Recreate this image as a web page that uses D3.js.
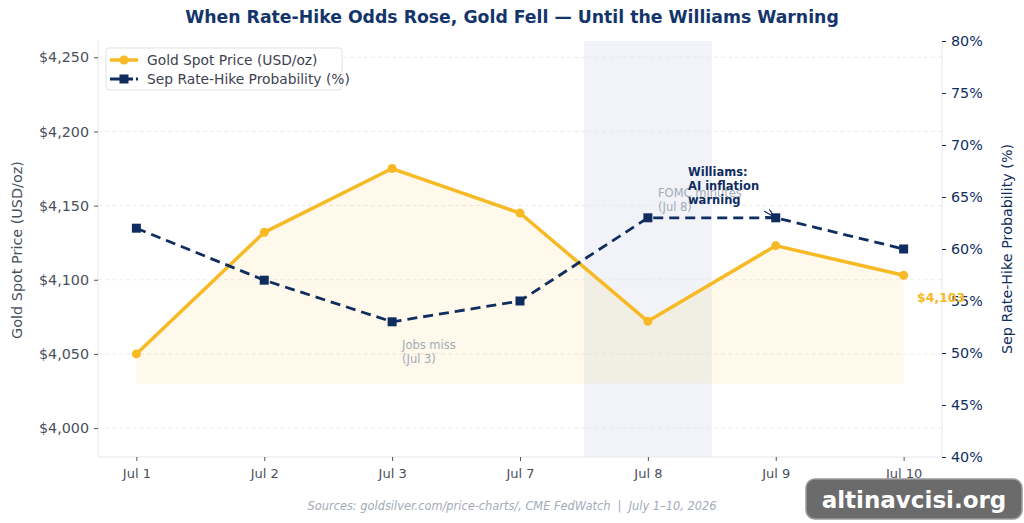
<!DOCTYPE html>
<html><head><meta charset="utf-8">
<script src="https://cdn.jsdelivr.net/npm/d3@7"></script>
<style>body{margin:0;background:#fff}svg{display:block;font-family:"DejaVu Sans",sans-serif}</style>
</head><body><svg id="c" width="1024" height="523"></svg>
<script>
const categories = ["Jul 1","Jul 2","Jul 3","Jul 7","Jul 8","Jul 9","Jul 10"];
const goldPrice = [4050, 4132, 4175, 4145, 4072, 4123, 4103];
const hikeProb = [62, 57, 53, 55, 63, 63, 60];
const goldTicks = [4000, 4050, 4100, 4150, 4200, 4250];
const probTicks = [40, 45, 50, 55, 60, 65, 70, 75, 80];
const fillBase = 4030;

const GOLD = "#f7b924", NAVY = "#0f2d5f";
const svg = d3.select("#c");
const L = 98, R = 942, T = 41, B = 457;
const x = d3.scaleLinear().domain([-0.3, 6.3]).range([L, R]);
const yL = d3.scaleLinear().domain([3980.5, 4261]).range([B, T]);
const yR = d3.scaleLinear().domain([40, 80]).range([B, T]);
const idx = categories.map((d, i) => i);

// shaded span
svg.append("rect").attr("x", x(3.5)).attr("y", T).attr("width", x(4.5) - x(3.5)).attr("height", B - T)
  .attr("fill", "#eef0f6").attr("opacity", 0.8);

// grid
svg.append("g").selectAll("line").data(goldTicks).join("line")
  .attr("x1", L).attr("x2", R).attr("y1", d => yL(d)).attr("y2", d => yL(d))
  .attr("stroke", "#e6e6e6").attr("stroke-dasharray", "4,3").attr("stroke-width", 0.8);

// fill
svg.append("path").datum(idx)
  .attr("d", d3.area().x(i => x(i)).y0(yL(fillBase)).y1(i => yL(goldPrice[i])))
  .attr("fill", GOLD).attr("opacity", 0.09);

// spines
svg.append("line").attr("x1", L).attr("x2", L).attr("y1", T).attr("y2", B).attr("stroke", "#e4e6ea");
svg.append("line").attr("x1", L).attr("x2", R).attr("y1", B).attr("y2", B).attr("stroke", "#e4e6ea");
svg.append("line").attr("x1", R).attr("x2", R).attr("y1", T).attr("y2", B).attr("stroke", "#e4e6ea");

// axes
const gL = svg.append("g").attr("transform", `translate(${L},0)`)
  .call(d3.axisLeft(yL).tickValues(goldTicks).tickFormat(d => "$" + d3.format(",")(d)).tickSize(4).tickPadding(5));
gL.select(".domain").remove();
gL.selectAll("line").attr("stroke", "#555");
gL.selectAll("text").attr("fill", "#4a4f5c").attr("font-size", 14.3).attr("font-family", "DejaVu Sans");

const gR = svg.append("g").attr("transform", `translate(${R},0)`)
  .call(d3.axisRight(yR).tickValues(probTicks).tickFormat(d => d + "%").tickSize(4).tickPadding(5));
gR.select(".domain").remove();
gR.selectAll("line").attr("stroke", NAVY);
gR.selectAll("text").attr("fill", NAVY).attr("font-size", 14.3).attr("font-family", "DejaVu Sans");

const gX = svg.append("g").attr("transform", `translate(0,${B})`)
  .call(d3.axisBottom(x).tickValues(idx).tickFormat(i => categories[i]).tickSize(4).tickPadding(8));
gX.select(".domain").remove();
gX.selectAll("line").attr("stroke", "#555");
gX.selectAll("text").attr("fill", "#4a4f5c").attr("font-size", 13).attr("font-family", "DejaVu Sans");

// gold line
svg.append("path").datum(idx)
  .attr("d", d3.line().x(i => x(i)).y(i => yL(goldPrice[i])))
  .attr("fill", "none").attr("stroke", GOLD).attr("stroke-width", 3.5).attr("stroke-linejoin", "round");
svg.append("g").selectAll("circle").data(idx).join("circle")
  .attr("cx", i => x(i)).attr("cy", i => yL(goldPrice[i])).attr("r", 4.5).attr("fill", GOLD);

// prob line
svg.append("path").datum(idx)
  .attr("d", d3.line().x(i => x(i)).y(i => yR(hikeProb[i])))
  .attr("fill", "none").attr("stroke", NAVY).attr("stroke-width", 2.8).attr("stroke-dasharray", "10,6");
svg.append("g").selectAll("rect").data(idx).join("rect")
  .attr("x", i => x(i) - 4.5).attr("y", i => yR(hikeProb[i]) - 4.5).attr("width", 9).attr("height", 9).attr("fill", NAVY);

// annotations
function multi(xp, yp, lines, attrs) {
  const t = svg.append("text").attr("x", xp).attr("y", yp);
  Object.entries(attrs).forEach(([k, v]) => t.attr(k, v));
  lines.forEach((l, i) => t.append("tspan").attr("x", xp).attr("dy", i ? 14 : 0).text(l));
}
multi(402, 349, ["Jobs miss", "(Jul 3)"], {fill: "#a3abb7", "font-size": 11.5});
multi(658, 197, ["FOMC minutes", "(Jul 8)"], {fill: "#a3abb7", "font-size": 11.5});
multi(688, 176, ["Williams:", "AI inflation", "warning"], {fill: NAVY, "font-size": 11.5, "font-weight": "bold"});
svg.append("defs").append("marker").attr("id", "ah").attr("viewBox", "0 0 10 10").attr("refX", 9).attr("refY", 5)
  .attr("markerWidth", 7).attr("markerHeight", 7).attr("orient", "auto")
  .append("path").attr("d", "M0,0 L10,5 L0,10").attr("fill", "none").attr("stroke", NAVY).attr("stroke-width", 1.5);
svg.append("line").attr("x1", 764).attr("y1", 211).attr("x2", x(5) - 2).attr("y2", yR(hikeProb[5]) - 1)
  .attr("stroke", NAVY).attr("stroke-width", 1.2).attr("marker-end", "url(#ah)");
svg.append("text").attr("x", 917).attr("y", 302).attr("fill", GOLD).attr("font-size", 12.5).attr("font-weight", "bold")
  .text("$" + d3.format(",")(goldPrice[6]));

// legend
const lg = svg.append("g");
lg.append("rect").attr("x", 106).attr("y", 48).attr("width", 236).attr("height", 42).attr("rx", 3)
  .attr("fill", "#fff").attr("fill-opacity", 0.9).attr("stroke", "#e2e2e2");
lg.append("line").attr("x1", 110).attr("x2", 138).attr("y1", 60).attr("y2", 60).attr("stroke", GOLD).attr("stroke-width", 3.5);
lg.append("circle").attr("cx", 124).attr("cy", 60).attr("r", 4.5).attr("fill", GOLD);
lg.append("line").attr("x1", 110).attr("x2", 138).attr("y1", 79).attr("y2", 79).attr("stroke", NAVY).attr("stroke-width", 2.8).attr("stroke-dasharray", "10,3");
lg.append("rect").attr("x", 119.5).attr("y", 74.5).attr("width", 9).attr("height", 9).attr("fill", NAVY);
lg.append("text").attr("x", 147).attr("y", 65).attr("fill", "#3d4250").attr("font-size", 13.8).text("Gold Spot Price (USD/oz)");
lg.append("text").attr("x", 147).attr("y", 84).attr("fill", "#3d4250").attr("font-size", 13.8).text("Sep Rate-Hike Probability (%)");

// titles
svg.append("text").attr("x", 512).attr("y", 23).attr("text-anchor", "middle").attr("fill", "#13356b")
  .attr("font-size", 17.3).attr("font-weight", "bold").text("When Rate-Hike Odds Rose, Gold Fell — Until the Williams Warning");
svg.append("text").attr("transform", "translate(22,250) rotate(-90)").attr("text-anchor", "middle")
  .attr("fill", "#4a4f5c").attr("font-size", 14.4).text("Gold Spot Price (USD/oz)");
svg.append("text").attr("transform", "translate(1012,249) rotate(-90)").attr("text-anchor", "middle")
  .attr("fill", NAVY).attr("font-size", 14.3).text("Sep Rate-Hike Probability (%)");
svg.append("text").attr("x", 512).attr("y", 510).attr("text-anchor", "middle").attr("fill", "#a3abb7")
  .attr("font-size", 11.4).attr("font-style", "italic").style("white-space", "pre")
  .text("Sources: goldsilver.com/price-charts/, CME FedWatch  |  July 1–10, 2026");

// watermark
svg.append("rect").attr("x", 806).attr("y", 479).attr("width", 216).attr("height", 40).attr("rx", 9)
  .attr("fill", "#6b6b6b").attr("stroke", "#9a9a9a").attr("stroke-width", 1.5);
svg.append("text").attr("x", 914).attr("y", 508).attr("text-anchor", "middle").attr("fill", "#fff")
  .attr("font-size", 23).attr("font-weight", "bold").text("altinavcisi.org");
</script></body></html>
